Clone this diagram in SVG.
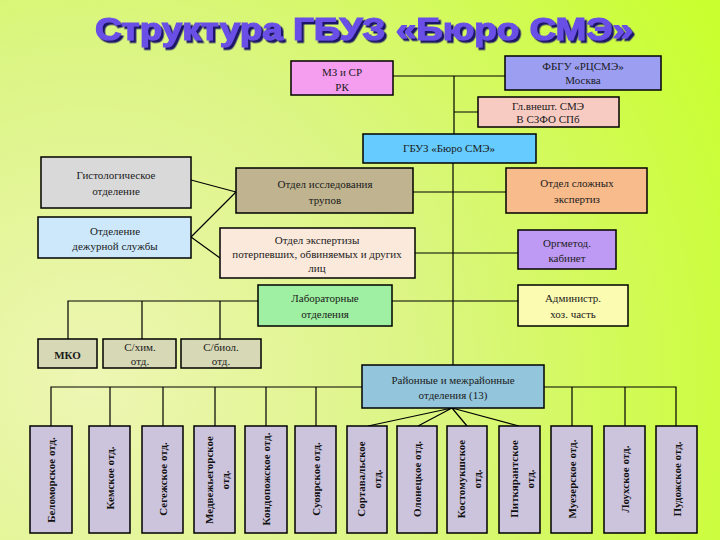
<svg xmlns="http://www.w3.org/2000/svg" width="720" height="540" viewBox="0 0 720 540">
<defs>
<radialGradient id="bg" cx="90" cy="380" r="720" gradientUnits="userSpaceOnUse">
<stop offset="0" stop-color="#eef6b4"/>
<stop offset="0.45" stop-color="#dcf585"/>
<stop offset="1" stop-color="#c9ff2e"/>
</radialGradient>
<filter id="sh" x="-5%" y="-20%" width="110%" height="150%">
<feDropShadow dx="2.5" dy="2.5" stdDeviation="0.6" flood-color="#1e1468" flood-opacity="1"/>
</filter>
<style>
.b{stroke:#000;stroke-width:1.5}
.t{font-family:"Liberation Serif","Times New Roman",serif;font-size:11px;fill:#1a1a1a;text-anchor:middle}
.v{font-family:"Liberation Serif","Times New Roman",serif;font-size:11px;font-weight:bold;fill:#111;text-anchor:middle}
.c{stroke:#000;stroke-width:1.2;fill:none}
.d{fill:#ccc3dc}
</style>
</defs>
<rect width="720" height="540" fill="url(#bg)"/>
<g id="title">
<text x="95" y="40" font-family="'Liberation Sans',Arial,sans-serif" font-weight="bold" font-size="32" textLength="538" lengthAdjust="spacingAndGlyphs" fill="#6a50e6" stroke="#6a50e6" stroke-width="1.2" filter="url(#sh)">Структура ГБУЗ «Бюро СМЭ»</text>
</g>
<g id="connectors" class="c">
<path d="M393 76H505M454 76V134M454 112H478"/>
<path d="M453 163V365"/>
<path d="M413 192H506M415 253H518"/>
<path d="M191 180L236 192M191 237L236 192M191 237L220 258"/>
<path d="M258 301H68V339M142 301V339M220 301V339M392 301H518"/>
<path d="M362 387H51V426M110 387V426M163 387V426M215 387V426M266 387V426M316 387V426"/>
<path d="M544 387H676V426M572 387V426M625 387V426"/>
<path d="M452 408L368 426M452 408L418 426M452 408L467 426M452 408L519 426"/>
</g>
<g font-family="'Liberation Serif','Times New Roman',serif">
<g id="mz"><rect class="b" x="291" y="61" width="102" height="34" fill="#f59ef0"/><text class="t" x="342" y="76">МЗ и СР</text><text class="t" x="342" y="91">РК</text></g>
<g id="fbgu"><rect class="b" x="505" y="56" width="156" height="34" fill="#9c9ef2"/><text class="t" x="583" y="70" font-size="10">ФБГУ «РЦСМЭ»</text><text class="t" x="583" y="84" font-size="10">Москва</text></g>
<g id="glvn"><rect class="b" x="478" y="97" width="141" height="30" fill="#f8cbc2"/><text class="t" x="548" y="110" font-size="10">Гл.внешт. СМЭ</text><text class="t" x="548" y="123" font-size="10">В СЗФО СПб</text></g>
<g id="gbuz"><rect class="b" x="363" y="134" width="173" height="29" fill="#66ccff"/><text class="t" x="449" y="152" font-size="10">ГБУЗ «Бюро СМЭ»</text></g>
<g id="gist"><rect class="b" x="41" y="157" width="150" height="51" fill="#d9d9d9"/><text class="t" x="116" y="179">Гистологическое</text><text class="t" x="116" y="195">отделение</text></g>
<g id="dezh"><rect class="b" x="38" y="217" width="153" height="41" fill="#cce8fa"/><text class="t" x="115" y="235" font-size="12">Отделение</text><text class="t" x="115" y="250" font-size="12">дежурной службы</text></g>
<g id="trup"><rect class="b" x="236" y="168" width="177" height="45" fill="#bfb48f"/><text class="t" x="325" y="188">Отдел исследования</text><text class="t" x="325" y="204">трупов</text></g>
<g id="poter"><rect class="b" x="220" y="228" width="195" height="50" fill="#fbe9dc"/><text class="t" x="317" y="244" font-size="10">Отдел экспертизы</text><text class="t" x="317" y="258" font-size="10">потерпевших, обвиняемых и других</text><text class="t" x="317" y="272" font-size="10">лиц</text></g>
<g id="slozh"><rect class="b" x="506" y="168" width="141" height="45" fill="#f8bb8c"/><text class="t" x="577" y="187">Отдел сложных</text><text class="t" x="577" y="203">экспертиз</text></g>
<g id="orgm"><rect class="b" x="518" y="230" width="98" height="39" fill="#bf9af5"/><text class="t" x="567" y="247">Оргметод.</text><text class="t" x="567" y="262">кабинет</text></g>
<g id="lab"><rect class="b" x="258" y="285" width="134" height="41" fill="#9ff0a2"/><text class="t" x="325" y="302">Лабораторные</text><text class="t" x="325" y="318">отделения</text></g>
<g id="adm"><rect class="b" x="518" y="285" width="110" height="41" fill="#fbfbb2"/><text class="t" x="573" y="302">Администр.</text><text class="t" x="573" y="318">хоз. часть</text></g>
<g id="mko"><rect class="b" x="38" y="339" width="59" height="29" fill="#d6d8b6"/><text class="t" x="67.5" y="359" font-weight="bold" font-size="12">МКО</text></g>
<g id="shim"><rect class="b" x="103" y="339" width="73" height="29" fill="#d6d8b6"/><text class="t" x="140" y="351" font-size="12">С/хим.</text><text class="t" x="140" y="365" font-size="9">отд.</text></g>
<g id="sbiol"><rect class="b" x="181" y="339" width="80" height="29" fill="#d6d8b6"/><text class="t" x="221" y="351" font-size="12">С/биол.</text><text class="t" x="221" y="365" font-size="9">отд.</text></g>
<g id="rayon"><rect class="b" x="362" y="365" width="182" height="43" fill="#93c6dc"/><text class="t" x="453" y="384">Районные и межрайонные</text><text class="t" x="453" y="399">отделения (13)</text></g>
<g id="o1"><rect class="b d" x="30" y="426" width="42" height="107"/><text class="v" transform="translate(51,480) rotate(-90)" y="4">Беломорское отд.</text></g>
<g id="o2"><rect class="b d" x="89" y="426" width="41" height="107"/><text class="v" transform="translate(109.5,478) rotate(-90)" y="4">Кемское отд.</text></g>
<g id="o3"><rect class="b d" x="142" y="426" width="41" height="107"/><text class="v" transform="translate(162.5,479) rotate(-90)" y="4">Сегежское отд.</text></g>
<g id="o4"><rect class="b d" x="194" y="426" width="41" height="107"/><text class="v" transform="translate(214.5,480) rotate(-90)"><tspan x="0" y="-2">Медвежьегорское</tspan><tspan x="0" y="14">отд.</tspan></text></g>
<g id="o5"><rect class="b d" x="245" y="426" width="42" height="107"/><text class="v" transform="translate(266,479) rotate(-90)" y="4">Кондопожское отд.</text></g>
<g id="o6"><rect class="b d" x="295" y="426" width="41" height="107"/><text class="v" transform="translate(315.5,479) rotate(-90)" y="4">Суоярское отд.</text></g>
<g id="o7"><rect class="b d" x="347" y="426" width="40" height="107"/><text class="v" transform="translate(367,479) rotate(-90)"><tspan x="0" y="-2">Сортавальское</tspan><tspan x="0" y="14">отд.</tspan></text></g>
<g id="o8"><rect class="b d" x="397" y="426" width="40" height="107"/><text class="v" transform="translate(417,479) rotate(-90)" y="4">Олонецкое отд.</text></g>
<g id="o9"><rect class="b d" x="447" y="426" width="40" height="107"/><text class="v" transform="translate(467,479) rotate(-90)"><tspan x="0" y="-2">Костомукшское</tspan><tspan x="0" y="14">отд.</tspan></text></g>
<g id="o10"><rect class="b d" x="499" y="426" width="41" height="107"/><text class="v" transform="translate(519.5,479) rotate(-90)"><tspan x="0" y="-2">Питкярантское</tspan><tspan x="0" y="14">отд.</tspan></text></g>
<g id="o11"><rect class="b d" x="551" y="426" width="41" height="107"/><text class="v" transform="translate(571.5,479) rotate(-90)" y="4">Муезерское отд.</text></g>
<g id="o12"><rect class="b d" x="604" y="426" width="41" height="107"/><text class="v" transform="translate(624.5,479) rotate(-90)" y="4">Лоухское отд.</text></g>
<g id="o13"><rect class="b d" x="656" y="426" width="41" height="107"/><text class="v" transform="translate(676.5,479) rotate(-90)" y="4">Пудожское отд.</text></g>
</g>
</svg>
